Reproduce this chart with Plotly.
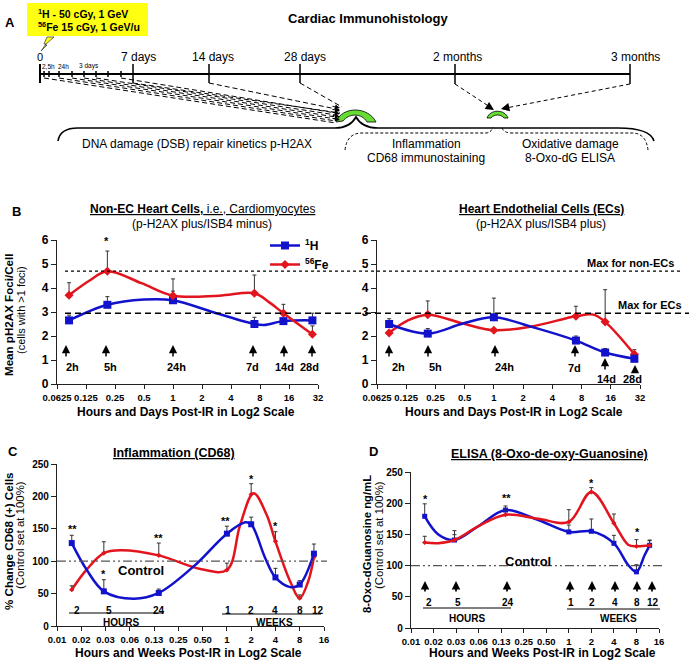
import plotly.graph_objects as go

W = 689
H = 663
FONT = "Liberation Sans"
BLUE = "#1212cc"
RED = "#e2141e"

# Panel B, time in days
b_days = [2 / 24, 5 / 24, 1, 7, 14, 28]
b_tick_vals = [0.0625, 0.125, 0.25, 0.5, 1, 2, 4, 8, 16, 32]
b_tick_text = ["0.0625", "0.125", "0.25", "0.5", "1", "2", "4", "8", "16", "32"]

nonec_h = [2.65, 3.3, 3.49, 2.5, 2.62, 2.65]
nonec_h_top = [2.87, 3.64, 3.87, 2.78, 3.0, 2.95]
nonec_fe = [3.7, 4.7, 3.68, 3.78, 2.95, 2.07]
nonec_fe_top = [4.22, 5.54, 4.38, 4.54, 3.32, 2.42]
nonec_h_curve_x = [2 / 24, 5 / 24, 0.5, 1, 2.67, 7, 8.8, 14, 28]
nonec_h_curve_y = [2.65, 3.3, 3.52, 3.49, 2.98, 2.5, 2.46, 2.62, 2.65]
nonec_fe_curve_x = [2 / 24, 0.135, 5 / 24, 0.47, 1, 3, 7, 10, 14, 28]
nonec_fe_curve_y = [3.7, 4.3, 4.7, 4.2, 3.68, 3.68, 3.78, 3.4, 2.95, 2.07]

ec_h = [2.5, 2.1, 2.78, 1.81, 1.31, 1.05]
ec_h_top = [2.72, 2.31, 3.58, 2.0, 1.48, 1.2]
ec_fe = [2.13, 2.89, 2.24, 2.82, 2.59, 1.24]
ec_fe_top = [2.2, 3.46, 2.3, 3.24, 3.93, 1.43]
ec_h_curve_x = [2 / 24, 5 / 24, 0.48, 1, 2.45, 7, 14, 28]
ec_h_curve_y = [2.5, 2.1, 2.52, 2.78, 2.38, 1.81, 1.31, 1.05]
ec_fe_curve_x = [2 / 24, 0.13, 5 / 24, 0.48, 1, 2.45, 7, 10.6, 14, 28]
ec_fe_curve_y = [2.13, 2.65, 2.89, 2.52, 2.24, 2.4, 2.82, 2.89, 2.59, 1.24]

# Panels C and D, time in weeks
cd_weeks = [2 / 168, 5 / 168, 24 / 168, 1, 2, 4, 8, 12]
cd_tick_vals = [1 / 128, 1 / 64, 1 / 32, 1 / 16, 1 / 8, 1 / 4, 1 / 2, 1, 2, 4, 8, 16]
cd_tick_text = ["0.01", "0.02", "0.03", "0.06", "0.13", "0.25", "0.50", "1", "2", "4", "8", "16"]

cd68_h = [128, 53.5, 51, 142.5, 157, 75, 64, 111.6]
cd68_h_top = [140, 71.5, 57, 154, 168, 89, 70, 126.5]
cd68_fe = [56, 112.6, 109, 86.4, 203, 130.6, 43, 106]
cd68_fe_top = [62, 130, 128, 97, 219.6, 145.5, 48, 115]
cd68_h_curve_x = [2 / 168, 0.0182, 5 / 168, 0.07, 24 / 168, 0.387, 1, 1.69, 2, 2.98, 4, 6.08, 8, 12]
cd68_h_curve_y = [128, 87, 53.5, 42, 51, 92, 142.5, 160, 157, 105, 75, 60, 64, 111.6]
cd68_fe_curve_x = [2 / 168, 0.0182, 5 / 168, 0.048, 24 / 168, 0.47, 1, 1.46, 2.14, 3.1, 4, 6.08, 8, 10.2, 12]
cd68_fe_curve_y = [56, 87, 112.6, 117, 109, 88, 86.4, 156, 205, 172, 130.6, 69, 43, 69, 106]

oxo_h = [179, 141, 189, 154, 155, 135.7, 90, 132.5]
oxo_h_top = [199, 156, 195.5, 165, 174.7, 148.5, 101.5, 141]
oxo_fe = [137, 141, 181.6, 170, 218, 168, 131, 132.5]
oxo_fe_top = [147, 149.6, 189, 189.6, 225, 182.7, 141.6, 140]
oxo_h_curve_x = [2 / 168, 0.0181, 5 / 168, 0.0617, 24 / 168, 0.39, 1, 2, 4, 6.2, 8, 10.3, 12]
oxo_h_curve_y = [179, 150, 141, 163, 189, 173, 154, 155, 135.7, 101, 90, 117, 132.5]
oxo_fe_curve_x = [2 / 168, 0.0181, 5 / 168, 0.0617, 24 / 168, 0.39, 1, 2, 4, 6.2, 8, 12]
oxo_fe_curve_y = [137, 136, 141, 163, 181.6, 175, 170, 218, 168, 133.5, 131, 132.5]

max_non_ec = 4.7
max_ec = 2.95
control_level = 100

fig = go.Figure()
shapes = []
notes = []


def dom_x(a, b):
    return [a / W, b / W]


def dom_y(top, bottom):
    return [(H - bottom) / H, (H - top) / H]


def text(x, y, s, size=11, bold=False, angle=0, color="black", anchor="center"):
    notes.append(dict(x=x, y=y, xref="x5", yref="y5", text=s, showarrow=False, textangle=angle,
                      xanchor=anchor, yanchor="middle",
                      font=dict(family=FONT, size=size, color=color, weight=700 if bold else 400)))


def arrow(x, y_head, y_tail, width=1.5, size=1.1):
    notes.append(dict(x=x, y=y_head, ax=x, ay=y_tail, xref="x5", yref="y5", axref="x5", ayref="y5",
                      text="", showarrow=True, arrowhead=2, arrowsize=size, arrowwidth=width,
                      arrowcolor="black"))


def line(x0, y0, x1, y1, width=1.0, dash="solid", color="black"):
    shapes.append(dict(type="line", xref="x5", yref="y5", x0=x0, y0=y0, x1=x1, y1=y1,
                       line=dict(color=color, width=width, dash=dash)))


def path(d, width=1.5, dash="solid", fill=None, color="black"):
    shapes.append(dict(type="path", xref="x5", yref="y5", path=d, fillcolor=fill,
                       line=dict(color=color, width=width, dash=dash)))


def add_series(axis_x, axis_y, times, values, tops, cx, cy, color, symbol, size):
    fig.add_trace(go.Scatter(x=cx, y=cy, mode="lines", xaxis=axis_x, yaxis=axis_y, showlegend=False,
                             line=dict(color=color, width=2.5, shape="spline", smoothing=1.0),
                             hoverinfo="skip"))
    fig.add_trace(go.Scatter(x=times, y=values, mode="markers", xaxis=axis_x, yaxis=axis_y, showlegend=False,
                             marker=dict(color=color, symbol=symbol, size=size),
                             error_y=dict(type="data", symmetric=False,
                                          array=[t - v for t, v in zip(tops, values)],
                                          arrayminus=[0] * len(values),
                                          color="#333333", thickness=1, width=2)))


add_series("x", "y", b_days, nonec_h, nonec_h_top, nonec_h_curve_x, nonec_h_curve_y, BLUE, "square", 8)
add_series("x", "y", b_days, nonec_fe, nonec_fe_top, nonec_fe_curve_x, nonec_fe_curve_y, RED, "diamond", 7)
add_series("x2", "y2", b_days, ec_fe, ec_fe_top, ec_fe_curve_x, ec_fe_curve_y, RED, "diamond", 7)
add_series("x2", "y2", b_days, ec_h, ec_h_top, ec_h_curve_x, ec_h_curve_y, BLUE, "square", 8)
add_series("x3", "y3", cd_weeks, cd68_fe, cd68_fe_top, cd68_fe_curve_x, cd68_fe_curve_y, RED, "diamond", 4)
add_series("x3", "y3", cd_weeks, cd68_h, cd68_h_top, cd68_h_curve_x, cd68_h_curve_y, BLUE, "square", 6)
add_series("x4", "y4", cd_weeks, oxo_h, oxo_h_top, oxo_h_curve_x, oxo_h_curve_y, BLUE, "square", 5)
add_series("x4", "y4", cd_weeks, oxo_fe, oxo_fe_top, oxo_fe_curve_x, oxo_fe_curve_y, RED, "diamond", 4)

# legend keys only, the real marks are above
fig.add_trace(go.Scatter(x=[None], y=[None], mode="lines+markers", name="<sup>1</sup>H", xaxis="x", yaxis="y",
                         line=dict(color=BLUE, width=2.5), marker=dict(color=BLUE, symbol="square", size=8)))
fig.add_trace(go.Scatter(x=[None], y=[None], mode="lines+markers", name="<sup>56</sup>Fe", xaxis="x", yaxis="y",
                         line=dict(color=RED, width=2.5), marker=dict(color=RED, symbol="diamond", size=7)))

# full page axis used for the schematic and for text placed in pixels
fig.add_trace(go.Scatter(x=[0], y=[0], mode="markers", xaxis="x5", yaxis="y5", showlegend=False,
                         marker=dict(opacity=0), hoverinfo="skip"))


def x_axis(domain, anchor, low, high, vals, labels, size=9.5):
    return dict(domain=domain, anchor=anchor, type="log", range=[low, high], tickvals=vals, ticktext=labels,
                ticks="outside", ticklen=4, tickwidth=1.3, tickcolor="#222", linecolor="#222", linewidth=1.3,
                showgrid=False, zeroline=False, tickangle=0,
                tickfont=dict(family=FONT, size=size, color="black", weight=700))


def y_axis(domain, anchor, top, dtick, size=11):
    return dict(domain=domain, anchor=anchor, range=[0, top], dtick=dtick, ticks="outside", ticklen=5,
                tickwidth=1.3, tickcolor="#222", linecolor="#222", linewidth=1.3, showgrid=False,
                zeroline=False, tickfont=dict(family=FONT, size=size, color="black", weight=700))


LOG_16TH = -1.20412
LOG_32 = 1.50515
LOG_128TH = -2.10721
LOG_16 = 1.20412

# Panel A
path("M 27 3 L 148 3 L 148 36 L 27 36 Z", width=0, fill="#ffff10")
path("M 41 51 L 47 45 L 45 45 L 54 37 L 47 37 L 44 44 L 46 44 Z", width=0.8, fill="#ffff10", color="#444")
text(36, 13, "<b><sup>1</sup>H - 50 cGy, 1 GeV</b>", 10.5, anchor="left")
text(36, 26, "<b><sup>56</sup>Fe 15 cGy, 1 GeV/u</b>", 10.5, anchor="left")
text(10, 22, "A", 13, True)
text(368, 18, "Cardiac Immunohistology", 13, True)

line(40, 74, 630, 74, 2)
line(40, 64, 40, 83, 2)
for tx in [44, 49, 59, 72, 84, 96, 108, 121]:
    line(tx, 71, tx, 77, 1.5)
for tx, ty in zip([44, 59, 72, 84, 96, 121], [123, 121, 119, 117, 115, 113]):
    line(tx, 78, 336, ty, 1, "5px,3px")
for tx, ex, ey in zip([133, 209, 300], [340, 341, 342], [113, 110, 107]):
    line(tx, 64, tx, 83, 1.5)
    line(tx, 83, ex, ey, 1, "5px,3px")
for ty in [108, 111, 114, 117, 120]:
    notes.append(dict(x=340, y=ty, ax=331, ay=ty - 2, xref="x5", yref="y5", axref="x5", ayref="y5", text="",
                      showarrow=True, arrowhead=2, arrowsize=1, arrowwidth=1, arrowcolor="black"))
line(455, 64, 455, 84, 1.5)
line(630, 64, 630, 84, 1.5)
line(455, 84, 490, 107, 1, "4px,3px")
line(630, 84, 506, 108, 1, "4px,3px")
notes.append(dict(x=494, y=110, ax=486, ay=105, xref="x5", yref="y5", axref="x5", ayref="y5", text="",
                  showarrow=True, arrowhead=2, arrowsize=1.2, arrowwidth=1.4, arrowcolor="black"))
notes.append(dict(x=501, y=109, ax=510, ay=107, xref="x5", yref="y5", axref="x5", ayref="y5", text="",
                  showarrow=True, arrowhead=2, arrowsize=1.2, arrowwidth=1.4, arrowcolor="black"))
path("M 58 141 Q 60 128 78 128 L 335 128 Q 350 128 356 117 Q 362 128 378 128 L 618 128 Q 650 128 654 141", 1.6)
path("M 345 150 Q 347 133 362 133 L 486 133 Q 491 133 493 127", 1, "3px,2px")
path("M 502 128 Q 504 133 512 133 L 632 133 Q 646 133 648 150", 1, "3px,2px")
path("M 336 122 C 342 106 368 106 376 122 L 367 122 C 362 113 349 113 343 121 Z", 0.8, fill="#66dd33")
path("M 487 118 C 490 109 505 109 508 118 L 504 118 C 501 114 494 114 491 118 Z", 0.8, fill="#66dd33")

text(40, 57, "0", 11)
for tx, label in zip([138, 213, 305, 457, 635], ["7 days", "14 days", "28 days", "2 months", "3 months"]):
    text(tx, 57, label, 12)
for tx, label in zip([48, 63, 89], ["2,5h", "24h", "3 days"]):
    text(tx, 66, label, 6.5)
text(197, 144, "DNA damage (DSB) repair kinetics p-H2AX", 12)
text(426, 144, "Inflammation", 12)
text(426, 158, "CD68 immunostaining", 12)
text(570, 144, "Oxidative damage", 12)
text(570, 158, "8-Oxo-dG ELISA", 12)

# Panel B
text(16, 211, "B", 13, True)
text(202, 209, "<u><b>Non-EC Heart Cells,</b> i.e., Cardiomyocytes</u>", 12)
text(202, 224, "(p-H2AX plus/ISB4 minus)", 12)
text(541, 209, "<u><b>Heart Endothelial Cells (ECs)</b></u>", 12)
text(541, 224, "(p-H2AX plus/ISB4 plus)", 12)
text(186, 412, "Hours and Days Post-IR in Log2 Scale", 12, True)
text(514, 412, "Hours and Days Post-IR in Log2 Scale", 12, True)
text(8, 315, "Mean pH2AX Foci/Cell", 11.6, True, -90)
text(21, 310, "(cells with >1 foci)", 11, False, -90)
text(106, 241, "*", 11, True)
text(630, 263, "Max for non-ECs", 11, True)
text(650, 305, "Max for ECs", 11, True)
shapes.append(dict(type="line", xref="x5", yref="y", x0=65, x1=681, y0=max_non_ec, y1=max_non_ec,
                   line=dict(color="black", width=1.2, dash="dot")))
shapes.append(dict(type="line", xref="x5", yref="y", x0=65, x1=689, y0=max_ec, y1=max_ec,
                   line=dict(color="black", width=1.5, dash="6px,4px")))
for ax_x in [66, 106, 173, 253, 284, 312]:
    arrow(ax_x, 345, 358)
for ax_x, label in zip([72, 110, 176, 252, 284, 309], ["2h", "5h", "24h", "7d", "14d", "28d"]):
    text(ax_x, 367, label, 11, True)
for ax_x in [389, 428, 495, 575, 605]:
    arrow(ax_x, 345 if ax_x != 605 else 358, 358 if ax_x != 605 else 371)
arrow(635, 365, 371)
for ax_x, ax_y, label in zip([398, 435, 504, 574, 606, 632], [367, 367, 367, 368, 379, 379],
                             ["2h", "5h", "24h", "7d", "14d", "28d"]):
    text(ax_x, ax_y, label, 11, True)

# Panel C
text(13, 451, "C", 13, True)
text(174, 453, "<u><b>Inflammation (CD68)</b></u>", 12.5)
text(188, 653, "Hours and Weeks Post-IR in Log2 Scale", 12, True)
text(8, 541, "% Change CD68 (+) Cells", 11.6, True, -90)
text(20, 535, "(Control set at 100%)", 11.4, False, -90)
text(141, 570, "Control", 13, True)
shapes.append(dict(type="line", xref="x5", yref="y3", x0=57, x1=327, y0=control_level, y1=control_level,
                   line=dict(color="#555", width=1.2, dash="9px,3px,2px,3px,2px,3px")))
for ax_x, ax_y, label in zip([72, 103, 158, 225, 251, 275], [529, 574, 538, 521, 479, 526],
                             ["**", "*", "**", "**", "*", "*"]):
    text(ax_x, ax_y, label, 11, True)
for ax_x, label in zip([77, 109, 159, 228, 251, 275, 300, 318], ["2", "5", "24", "1", "2", "4", "8", "12"]):
    text(ax_x, 610, label, 10, True)
line(69, 613, 164, 613, 1)
line(222, 614, 321, 614, 1)
text(121, 622, "HOURS", 10, True)
text(274, 622, "WEEKS", 10, True)

# Panel D
text(373, 451, "D", 13, True)
text(549, 454, "<u><b>ELISA (8-Oxo-de-oxy-Guanosine)</b></u>", 12.5)
text(542, 653, "Hours and Weeks Post-IR in Log2 Scale", 12, True)
text(367, 544, "8-Oxo-dGuanosine ng/mL", 11.3, True, -90)
text(379, 535, "(Control set at 100%)", 11.4, False, -90)
text(528, 561, "Control", 13, True)
shapes.append(dict(type="line", xref="x5", yref="y4", x0=411, x1=664, y0=control_level, y1=control_level,
                   line=dict(color="#555", width=1.2, dash="9px,3px,2px,3px,2px,3px")))
for ax_x, ax_y, label in zip([425, 506, 591, 637], [499, 498, 483, 532], ["*", "**", "*", "*"]):
    text(ax_x, ax_y, label, 11, True)
for ax_x in [425, 456, 507, 570, 592, 615, 637, 652]:
    arrow(ax_x, 581, 593, 1.7, 1.0)
for ax_x, label in zip([429, 458, 508, 571, 592, 615, 637, 653], ["2", "5", "24", "1", "2", "4", "8", "12"]):
    text(ax_x, 602, label, 10, True)
line(423, 608, 511, 608, 1)
line(567, 609, 660, 609, 1)
text(467, 618, "HOURS", 10, True)
text(618, 618, "WEEKS", 10, True)

fig.update_layout(
    width=W,
    height=H,
    margin=dict(l=0, r=0, t=0, b=0, pad=0, autoexpand=False),
    paper_bgcolor="white",
    plot_bgcolor="rgba(0,0,0,0)",
    font=dict(family=FONT, color="black"),
    showlegend=True,
    legend=dict(x=265 / W, y=1 - 231 / H, xanchor="left", yanchor="top", bgcolor="rgba(0,0,0,0)",
                font=dict(family=FONT, size=12, color="black", weight=700), itemwidth=30, tracegroupgap=0),
    xaxis=x_axis(dom_x(57, 318), "y", LOG_16TH, LOG_32, b_tick_vals, b_tick_text),
    yaxis=y_axis(dom_y(240, 384), "x", 6, 1, 12),
    xaxis2=x_axis(dom_x(377, 640), "y2", LOG_16TH, LOG_32, b_tick_vals, b_tick_text),
    yaxis2=y_axis(dom_y(240, 384), "x2", 6, 1, 12),
    xaxis3=x_axis(dom_x(57, 324), "y3", LOG_128TH, LOG_16, cd_tick_vals, cd_tick_text),
    yaxis3=y_axis(dom_y(464, 626), "x3", 250, 50, 10),
    xaxis4=x_axis(dom_x(411, 659), "y4", LOG_128TH, LOG_16, cd_tick_vals, cd_tick_text),
    yaxis4=y_axis(dom_y(472, 628), "x4", 250, 50, 10),
    xaxis5=dict(domain=[0, 1], anchor="y5", range=[0, W], visible=False, fixedrange=True),
    yaxis5=dict(domain=[0, 1], anchor="x5", range=[H, 0], visible=False, fixedrange=True),
    shapes=shapes,
    annotations=notes,
)

# the page body has a default margin that would push the chart off its place
fig.write_html("out.html", config={"displayModeBar": False}, post_script="document.body.style.margin = '0';")
